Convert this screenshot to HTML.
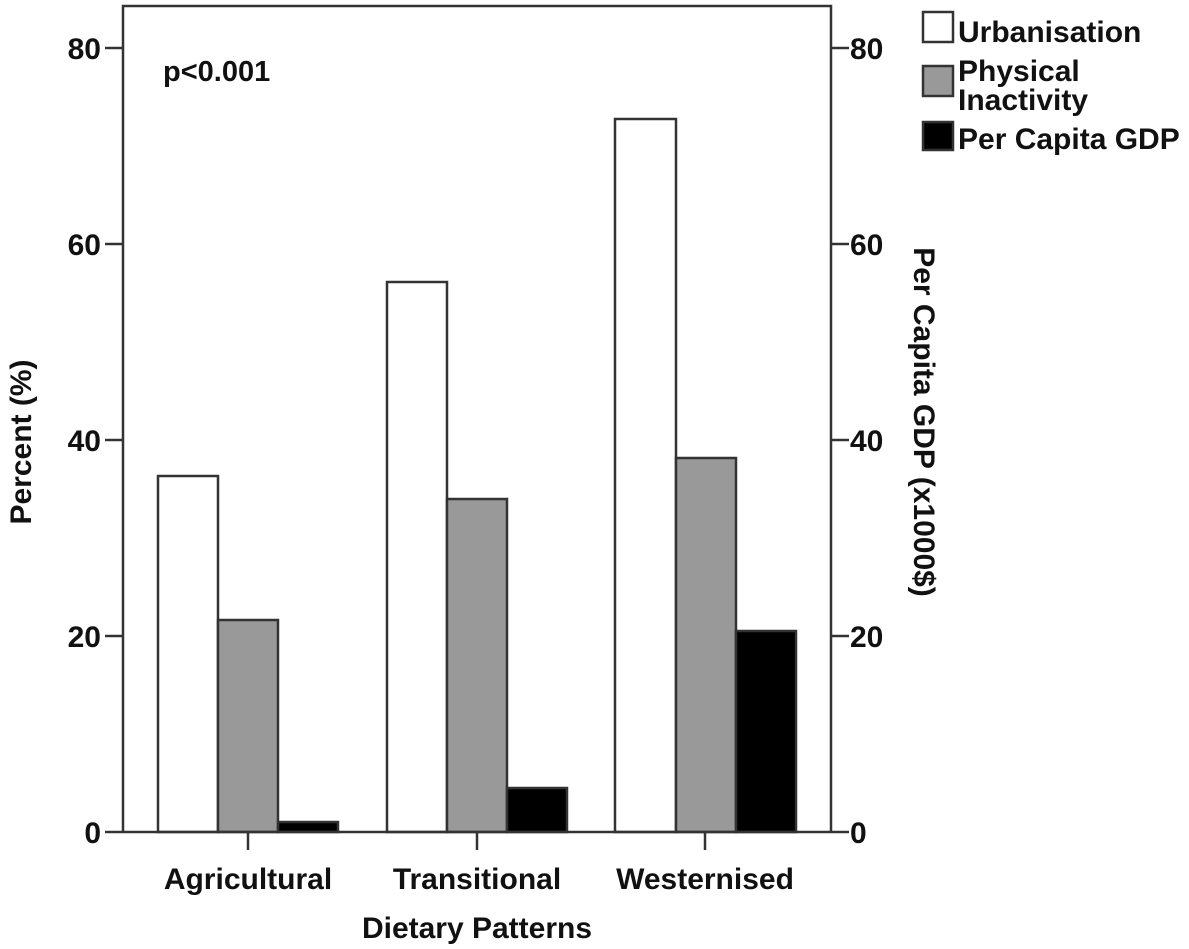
<!DOCTYPE html>
<html><head><meta charset="utf-8"><style>body{margin:0;background:#fff}svg{display:block}text{font-family:"Liberation Sans",Arial,sans-serif;font-weight:bold;fill:#111}</style></head>
<body>
<svg width="1189" height="949" viewBox="0 0 1189 949">
<rect x="0" y="0" width="1189" height="949" fill="#fff"/>
<g stroke="#333" stroke-width="2.5">
<rect x="158" y="476" width="60" height="356" fill="#fff"/>
<rect x="218" y="620" width="60" height="212" fill="#999"/>
<rect x="278" y="822" width="60" height="10" fill="#000"/>
<rect x="387" y="282" width="60" height="550" fill="#fff"/>
<rect x="447" y="499" width="60" height="333" fill="#999"/>
<rect x="507" y="788" width="60" height="44" fill="#000"/>
<rect x="615" y="119" width="61" height="713" fill="#fff"/>
<rect x="676" y="458" width="60" height="374" fill="#999"/>
<rect x="736" y="631" width="60" height="201" fill="#000"/>
<polyline points="123,832 123,6 831,6 831,832" fill="none"/>
<line x1="123" y1="832" x2="831" y2="832"/>
<line x1="105" y1="48" x2="123" y2="48"/><line x1="105" y1="244" x2="123" y2="244"/><line x1="105" y1="440" x2="123" y2="440"/><line x1="105" y1="636" x2="123" y2="636"/><line x1="105" y1="832" x2="123" y2="832"/>
<line x1="831" y1="48" x2="849" y2="48"/><line x1="831" y1="244" x2="849" y2="244"/><line x1="831" y1="440" x2="849" y2="440"/><line x1="831" y1="636" x2="849" y2="636"/><line x1="831" y1="832" x2="849" y2="832"/>
<line x1="248" y1="832" x2="248" y2="850"/><line x1="477" y1="832" x2="477" y2="850"/><line x1="705" y1="832" x2="705" y2="850"/>
<rect x="923" y="12" width="30" height="30" fill="#fff"/>
<rect x="923" y="66" width="30" height="30" fill="#999"/>
<rect x="923" y="122" width="30" height="28" fill="#000"/>
</g>
<g font-size="30">
<text x="101" y="59" text-anchor="end">80</text>
<text x="101" y="255" text-anchor="end">60</text>
<text x="101" y="451" text-anchor="end">40</text>
<text x="101" y="647" text-anchor="end">20</text>
<text x="101" y="843" text-anchor="end">0</text>
<text x="850" y="59">80</text>
<text x="850" y="255">60</text>
<text x="850" y="451">40</text>
<text x="850" y="647">20</text>
<text x="850" y="843">0</text>
<text x="163" y="81" font-size="29">p&lt;0.001</text>
<text x="248" y="889" text-anchor="middle">Agricultural</text>
<text x="477" y="889" text-anchor="middle">Transitional</text>
<text x="705" y="889" text-anchor="middle">Westernised</text>
<text x="477" y="938" text-anchor="middle">Dietary Patterns</text>
<text transform="translate(31,442) rotate(-90)" text-anchor="middle">Percent (%)</text>
<text transform="translate(914,422) rotate(90)" text-anchor="middle">Per Capita GDP (x1000$)</text>
<text x="958" y="42">Urbanisation</text>
<text x="958" y="81">Physical</text>
<text x="958" y="110">Inactivity</text>
<text x="958" y="149">Per Capita GDP</text>
</g>
</svg>
</body></html>
